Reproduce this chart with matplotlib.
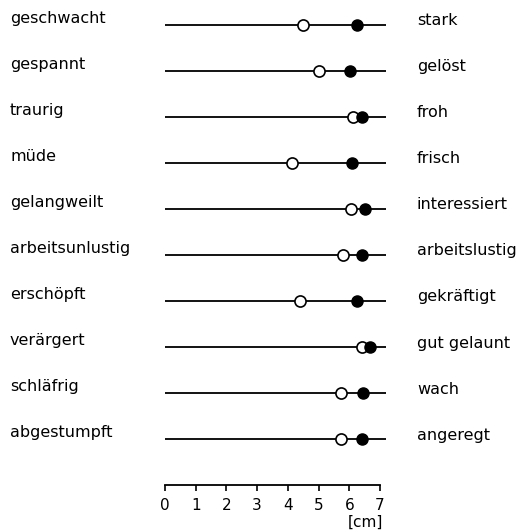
import numpy as np
import matplotlib
matplotlib.use("Agg")
import matplotlib.pyplot as plt
import matplotlib.transforms as mtransforms

# Eigenschaftspaare (links negativ, rechts positiv)
left_words = ["geschwacht", "gespannt", "traurig", "müde", "gelangweilt",
              "arbeitsunlustig", "erschöpft", "verärgert", "schläfrig", "abgestumpft"]
right_words = ["stark", "gelöst", "froh", "frisch", "interessiert",
               "arbeitslustig", "gekräftigt", "gut gelaunt", "wach", "angeregt"]

# Mittelwerte in cm (offen = vorher, gefuellt = nachher)
open_vals = [4.49, 5.03, 6.11, 4.13, 6.06, 5.81, 4.40, 6.41, 5.72, 5.72]
filled_vals = [6.24, 6.03, 6.42, 6.08, 6.51, 6.41, 6.24, 6.66, 6.46, 6.41]

ticks = [0, 1, 2, 3, 4, 5, 6, 7]

fig = plt.figure(figsize=(5.30, 5.32), dpi=100)
ax = fig.add_axes([165/530, 0, 215/530, 1])
ax.set_xlim(0, 7)
ax.set_ylim(11.02, -0.543)

rows = np.arange(len(left_words))
ax.hlines(rows, 0, 7.18, color="black", lw=1.3, zorder=1, clip_on=False)
ax.plot(open_vals, rows, "o", ms=8, mfc="white", mec="black", mew=1.2, zorder=3, clip_on=False)
ax.plot(filled_vals, rows, "o", ms=8, mfc="black", mec="black", zorder=4, clip_on=False)

trans = mtransforms.blended_transform_factory(fig.transFigure, ax.transData)
for i in rows:
    ax.text(10/530, i - 0.04, left_words[i], transform=trans, fontsize=11.5,
            ha="left", va="baseline")
    ax.text(417/530, i + 0.01, right_words[i], transform=trans, fontsize=11.5,
            ha="left", va="baseline")

for s in ["top", "left", "right"]:
    ax.spines[s].set_visible(False)
ax.spines["bottom"].set_position(("data", 10))
ax.spines["bottom"].set_linewidth(1.3)
ax.set_yticks([])
ax.set_xticks(ticks)
ax.tick_params(axis="x", direction="out", length=4, width=1.2, pad=5, labelsize=11)
ax.text(7.1, 10.80, "[cm]", fontsize=11, ha="right", va="center")

fig.savefig("out.png", dpi=100)
